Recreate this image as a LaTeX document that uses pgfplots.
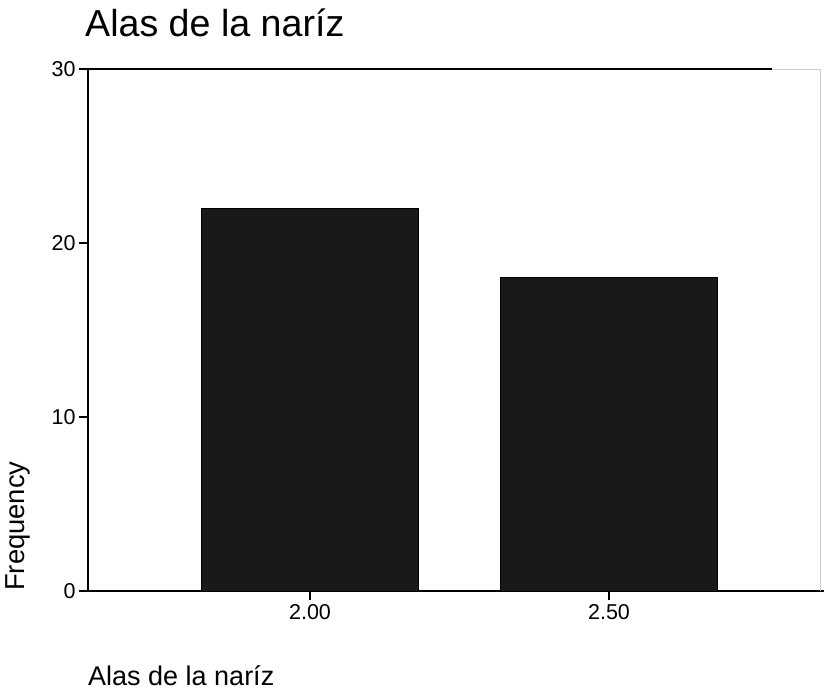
\documentclass[border=0pt]{standalone}
\usepackage{fontspec}
\setmainfont{Liberation Sans}
\usepackage{pgfplots}
\pgfplotsset{compat=1.18}
\begin{document}
\begin{tikzpicture}
% fixed page extent around the plot frame
\useasboundingbox (-88pt,-103pt) rectangle (736pt,591pt);
\begin{axis}[
  at={(0pt,0pt)}, anchor=south west,
  scale only axis, width=736pt, height=522pt,
  xmin=1.6288, xmax=2.8595,
  ymin=0, ymax=30,
  axis lines=left,
  axis line style={-, line width=1.4pt, black},
  xtick={2.0,2.5},
  xticklabels={2.00,2.50},
  ytick={0,10,20,30},
  tick align=outside,
  major tick length=9pt,
  tick style={line width=1.2pt, black},
  /pgf/number format/assume math mode=true,
  ticklabel style={font=\fontsize{21.5}{24}\selectfont},
  xticklabel style={yshift=-1pt},
  title={Alas de la naríz},
  title style={at={(axis description cs:0,1)}, anchor=base west,
    yshift=27pt, xshift=-3pt, inner sep=0pt,
    font=\fontsize{37.6}{42}\selectfont},
  xlabel={Alas de la naríz},
  xlabel style={at={(axis description cs:0,0)}, anchor=base west,
    yshift=-94pt, inner sep=0pt, font=\fontsize{27}{30}\selectfont},
  ylabel={Frequency},
  ylabel style={at={(axis description cs:-0.0856,0)}, anchor=base west,
    inner sep=0pt, font=\fontsize{27.4}{30}\selectfont},
  clip=false,
]
\addplot[ybar, bar width=217pt, bar shift=0pt, draw=black, line width=1pt,
  fill=black!90] coordinates {(2.00,22) (2.50,18)};
% top edge of the frame and the faint right edge
\draw[line width=1.4pt, black] (axis description cs:0,1) -- (axis description cs:0.93,1);
\draw[line width=1pt, black!20] (axis description cs:0.93,1) -- (axis description cs:0.995,1) -- (axis description cs:0.995,0);
\end{axis}
\end{tikzpicture}
\end{document}
